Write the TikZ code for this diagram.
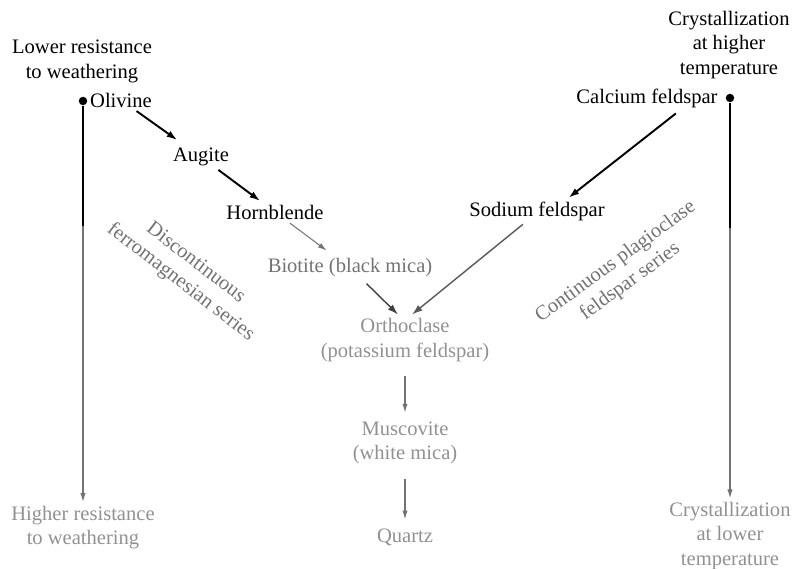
\documentclass[tikz,border=0pt]{standalone}
\usepackage{fontspec}
\setmainfont{Liberation Serif}
\usetikzlibrary{positioning, arrows.meta}
\definecolor{inkgrey}{RGB}{115, 115, 115}
\definecolor{inklight}{RGB}{145, 145, 145}
\begin{document}
\begin{tikzpicture}[
        lbl/.style={font=\fontsize{11.7}{14}\selectfont, align=center, inner sep=2pt},
        pin/.style={circle, fill=black, inner sep=1.7pt},
        darkarrow/.style={-{Latex[length=6pt,width=4pt]}, line width=1.1pt},
        greyarrow/.style={-{Latex[length=5pt,width=3pt]}, line width=0.6pt, draw=inkgrey}
    ]
    \useasboundingbox (0, 0) rectangle (15.92, 11.38);
    \node[lbl] (lowres) at (1.64, 10.15)
        {Lower resistance\\to weathering};
    \node[lbl] (olivine) at (2.42, 9.38) {Olivine};
    \node[pin] (dotL) at (1.66, 9.36) {};
    \coordinate (midL) at (1.66, 6.86);
    \node[lbl] (augite) at (4.02, 8.24) {Augite};
    \node[lbl] (hornblende) at (5.5, 7.14) {Hornblende};
    \node[lbl, text=inkgrey] (biotite) at (7.0, 6.02) {Biotite (black mica)};
    \node[lbl, text=inklight] (orthoclase) at (8.1, 4.58)
        {Orthoclase\\(potassium feldspar)};
    \node[lbl, text=inklight] (muscovite) at (8.1, 2.52)
        {Muscovite\\(white mica)};
    \node[lbl, text=inklight] (quartz) at (8.1, 0.64) {Quartz};
    \node[lbl, text=inklight] (higherres) at (1.66, 0.83)
        {Higher resistance\\to weathering};
    \node[lbl] (crysthigh) at (14.58, 10.48)
        {Crystallization\\at higher\\temperature};
    \node[lbl] (calcium) at (12.94, 9.42) {Calcium feldspar};
    \node[pin] (dotR) at (14.6, 9.42) {};
    \coordinate (midR) at (14.6, 6.82);
    \node[lbl] (sodium) at (10.74, 7.16) {Sodium feldspar};
    \node[lbl, text=inklight] (crystlow) at (14.6, 0.66)
        {Crystallization\\at lower\\temperature};
    \node[lbl, text=inkgrey, rotate=-37.5] (discont) at (3.76, 5.92)
        {Discontinuous\\ferromagnesian series};
    \node[lbl, text=inkgrey, rotate=36] (contin) at (12.46, 5.94)
        {Continuous plagioclase\\feldspar series};

    \draw[line width=1.1pt] (dotL) -- (midL);
    \draw[greyarrow] (midL) -- (higherres.north);
    \draw[line width=1.1pt] (dotR) -- (midR);
    \draw[greyarrow] (midR) -- (crystlow.north);
    \draw[darkarrow, shorten >=4pt] (olivine) -- (augite);
    \draw[darkarrow] (augite) -- (hornblende);
    \draw[greyarrow, shorten >=4pt] (hornblende) -- (biotite);
    \draw[darkarrow, line width=0.8pt, draw=black!75, shorten <=2pt]
        ([xshift=8pt]biotite.south) -- ([xshift=-4pt]orthoclase.north);
    \draw[darkarrow, line width=0.8pt, draw=black!65]
        ([xshift=-8pt]sodium.south) -- ([xshift=4pt]orthoclase.north);
    \draw[darkarrow, shorten <=2pt]
        ([xshift=18pt]calcium.south) -- ([xshift=18pt]sodium.north);
    \draw[greyarrow, shorten <=6pt, shorten >=3pt] (orthoclase) -- (muscovite);
    \draw[greyarrow, shorten <=6pt, shorten >=3pt] (muscovite) -- (quartz);
\end{tikzpicture}
\end{document}
